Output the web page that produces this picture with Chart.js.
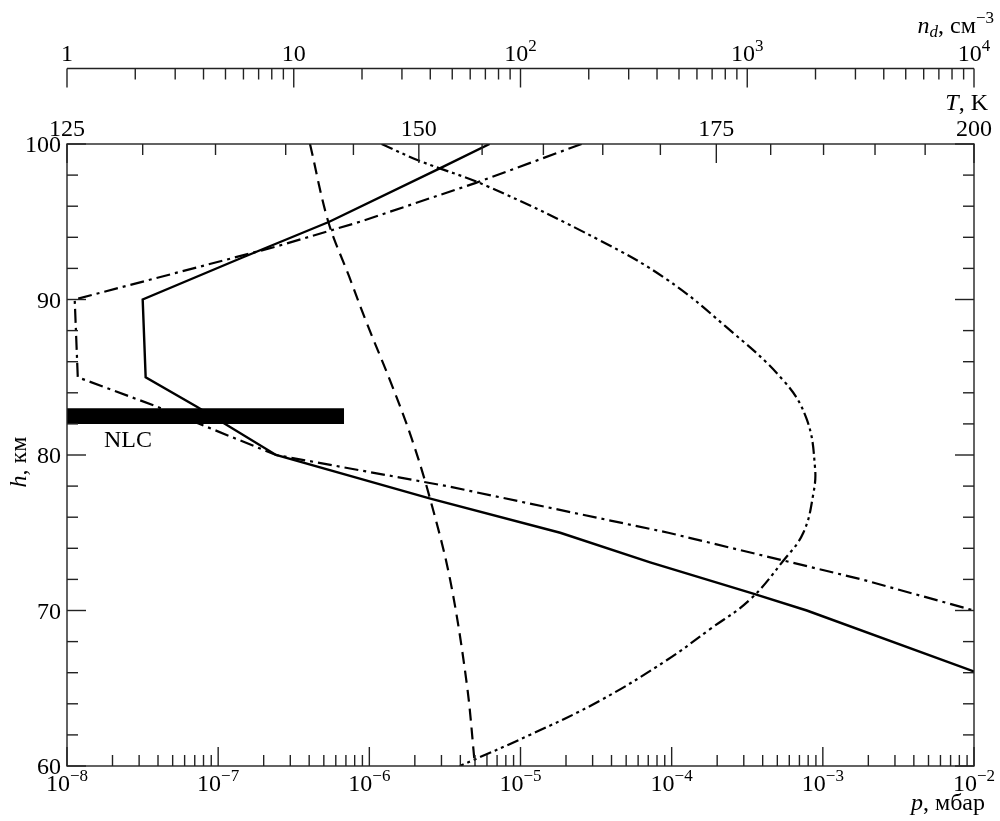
<!DOCTYPE html>
<html>
<head>
<meta charset="utf-8">
<script src="https://cdn.jsdelivr.net/npm/chart.js@4.4.0/dist/chart.umd.min.js"></script>
<style>
  html, body { margin: 0; padding: 0; background: #fff; }
  #wrap { width: 1000px; height: 821px; position: relative; }
  canvas { display: block; }
</style>
</head>
<body>
<div id="wrap"><canvas id="c" width="1000" height="821"></canvas></div>
<script>
// Temperature profile 1 (solid), h in km, T in K
const solidH = [100, 98.5, 95, 92.7, 90, 85, 83.1, 80, 77.2, 75, 73.1, 71.1, 70, 65];
const solidT = [155.6, 151.8, 143.2, 136.9, 130.0, 130.2, 133.7, 139.3, 150.9, 161.4, 169.1, 178.3, 183.4, 204.8];

// Temperature profile 2 (dash-dot)
const dashDotH = [100, 97.5, 95, 93.4, 90, 85, 83.1, 80, 78, 75, 72, 70];
const dashDotT = [163.2, 154.5, 145.5, 139.3, 125.5, 125.7, 131.0, 139.3, 152.2, 170.7, 188.7, 200.0];

// Water vapour pressure (dashed), p in mbar
const dashedH = [100, 95, 91.5, 88.5, 84.8, 81.1, 77.2, 72, 65.3, 60];
const dashedP = [4.05e-7, 5.35e-7, 7.34e-7, 9.6e-7, 1.37e-6, 1.9e-6, 2.52e-6, 3.42e-6, 4.41e-6, 5.0e-6];

// Particle number density (dash-dot-dot), n_d in cm^-3
const ndH = [100, 98.9, 97.3, 93.8, 91.3, 88.3, 84.8, 82.3, 79.2, 77.5, 75.0, 73.2, 70.7, 68.8, 66.8, 64.2, 62.0, 60];
const ndN = [24.4, 36.1, 71, 224, 441, 798, 1442, 1829, 1990, 1956, 1767, 1442, 1028, 685, 441, 224, 110, 54];

// Noctilucent cloud layer
const nlcH = [82, 83];
const nlcP = [1e-8, 6.8e-7];

// Axis ticks
const hTicks = [60, 62, 64, 66, 68, 70, 72, 74, 76, 78, 80, 82, 84, 86, 88, 90, 92, 94, 96, 98, 100];
const hLabels = [60, 70, 80, 90, 100];
const tTicks = [125, 130, 135, 140, 145, 150, 155, 160, 165, 170, 175, 180, 185, 190, 195, 200];
const tLabels = [125, 150, 175, 200];
const pExponents = [-8, -7, -6, -5, -4, -3, -2];
const nExponents = [0, 1, 2, 3, 4];
const nLabels = ['1', '10', '10^2', '10^3', '10^4'];
const minorMultipliers = [2, 3, 4, 5, 6, 7, 8, 9];

const SERIF = '"Liberation Serif", "DejaVu Serif", serif';
const FS = 24;
const SUP = 17;
const MAJOR = 19, MINOR = 11;

function pts(xs, ys) { return xs.map((x, i) => ({ x: x, y: ys[i] })); }

// Draw a run of text pieces; each piece: {t, italic, size, dy}
function drawRuns(ctx, runs, x, y, align) {
  let total = 0;
  const widths = runs.map(r => {
    ctx.font = (r.italic ? 'italic ' : '') + (r.size || FS) + 'px ' + SERIF;
    const w = ctx.measureText(r.t).width;
    total += w;
    return w;
  });
  let cx = align === 'right' ? x - total : align === 'center' ? x - total / 2 : x;
  ctx.textAlign = 'left';
  ctx.textBaseline = 'alphabetic';
  runs.forEach((r, i) => {
    ctx.font = (r.italic ? 'italic ' : '') + (r.size || FS) + 'px ' + SERIF;
    ctx.fillText(r.t, cx, y + (r.dy || 0));
    cx += widths[i];
  });
}

function powRuns(base, exp) {
  if (exp === null) return [{ t: base }];
  return [{ t: base }, { t: exp, size: SUP, dy: -10 }];
}

function line(ctx, x1, y1, x2, y2) {
  ctx.beginPath(); ctx.moveTo(x1, y1); ctx.lineTo(x2, y2); ctx.stroke();
}

const frameAxes = {
  id: 'frameAxes',
  afterDatasetsDraw(chart) {
    const { ctx, chartArea: a, scales } = chart;
    ctx.save();
    ctx.strokeStyle = '#222';
    ctx.fillStyle = '#000';
    ctx.lineWidth = 1.4;
    ctx.strokeRect(a.left, a.top, a.right - a.left, a.bottom - a.top);

    // Height ticks on both sides
    hTicks.forEach(h => {
      const y = scales.y.getPixelForValue(h);
      const len = hLabels.includes(h) ? MAJOR : MINOR;
      line(ctx, a.left, y, a.left + len, y);
      line(ctx, a.right, y, a.right - len, y);
    });
    hLabels.forEach(h => {
      const y = scales.y.getPixelForValue(h);
      drawRuns(ctx, [{ t: String(h) }], a.left - 6, y + 8, 'right');
    });

    // Pressure axis (bottom)
    const sx = scales.x;
    pExponents.forEach((e, i) => {
      const x = sx.getPixelForValue(Math.pow(10, e));
      line(ctx, x, a.bottom, x, a.bottom - MAJOR);
      drawRuns(ctx, powRuns('10', '\u2212' + Math.abs(e)), x, a.bottom + 25, 'center');
      if (i < pExponents.length - 1) {
        minorMultipliers.forEach(m => {
          const xm = sx.getPixelForValue(m * Math.pow(10, e));
          line(ctx, xm, a.bottom, xm, a.bottom - MINOR);
        });
      }
    });
    drawRuns(ctx, [{ t: 'p', italic: true }, { t: ', мбар' }], 985, 810, 'right');

    // Temperature axis (top of the frame)
    const st = scales.xT;
    tTicks.forEach(t => {
      const x = st.getPixelForValue(t);
      line(ctx, x, a.top, x, a.top + (tLabels.includes(t) ? MAJOR : MINOR));
    });
    tLabels.forEach(t => {
      drawRuns(ctx, [{ t: String(t) }], st.getPixelForValue(t), a.top - 8, 'center');
    });
    drawRuns(ctx, [{ t: 'T', italic: true }, { t: ', K' }], 988, 110, 'right');

    // Number density axis (detached, above)
    const sn = scales.xN;
    const yN = 68.5;
    line(ctx, a.left, yN, a.right, yN);
    nExponents.forEach((e, i) => {
      const x = sn.getPixelForValue(Math.pow(10, e));
      line(ctx, x, yN, x, yN + MAJOR);
      const parts = nLabels[i].split('^');
      drawRuns(ctx, powRuns(parts[0], parts.length > 1 ? parts[1] : null), x, yN - 8, 'center');
      if (i < nExponents.length - 1) {
        minorMultipliers.forEach(m => {
          const xm = sn.getPixelForValue(m * Math.pow(10, e));
          line(ctx, xm, yN, xm, yN + MINOR);
        });
      }
    });
    drawRuns(ctx, [
      { t: 'n', italic: true },
      { t: 'd', italic: true, size: SUP, dy: 4 },
      { t: ', см' },
      { t: '\u22123', size: SUP, dy: -10 }
    ], 994, 33, 'right');

    // Height axis title, rotated
    ctx.save();
    ctx.translate(26, 462);
    ctx.rotate(-Math.PI / 2);
    drawRuns(ctx, [{ t: 'h', italic: true }, { t: ', км' }], 0, 0, 'center');
    ctx.restore();

    // Cloud layer label
    drawRuns(ctx, [{ t: 'NLC', size: 24 }], 128, 447, 'center');
    ctx.restore();
  }
};

const lineBase = { showLine: true, pointRadius: 0, borderColor: '#000', fill: false, tension: 0 };

new Chart(document.getElementById('c').getContext('2d'), {
  type: 'scatter',
  data: {
    datasets: [
      Object.assign({}, lineBase, {
        label: 'NLC', xAxisID: 'x',
        data: [
          { x: nlcP[0], y: nlcH[0] }, { x: nlcP[1], y: nlcH[0] },
          { x: nlcP[1], y: nlcH[1] }, { x: nlcP[0], y: nlcH[1] }, { x: nlcP[0], y: nlcH[0] }
        ],
        fill: 'shape', backgroundColor: '#000', borderWidth: 0
      }),
      Object.assign({}, lineBase, {
        label: 'T1', xAxisID: 'xT', data: pts(solidT, solidH), borderWidth: 2.4
      }),
      Object.assign({}, lineBase, {
        label: 'T2', xAxisID: 'xT', data: pts(dashDotT, dashDotH), borderWidth: 2.2,
        borderDash: [14, 5, 3, 5]
      }),
      Object.assign({}, lineBase, {
        label: 'p', xAxisID: 'x', data: pts(dashedP, dashedH), borderWidth: 2.2,
        borderDash: [12, 7], tension: 0.35
      }),
      Object.assign({}, lineBase, {
        label: 'nd', xAxisID: 'xN', data: pts(ndN, ndH), borderWidth: 2.2,
        borderDash: [12, 4, 3, 4, 3, 4], tension: 0.4
      })
    ]
  },
  options: {
    responsive: false,
    animation: false,
    devicePixelRatio: 1,
    layout: { padding: { left: 67, right: 26, top: 144, bottom: 55 } },
    plugins: { legend: { display: false }, tooltip: { enabled: false } },
    scales: {
      x: { type: 'logarithmic', position: 'bottom', min: 1e-8, max: 1e-2, display: false },
      xT: { type: 'logarithmic', position: 'top', min: 125, max: 200, display: false },
      xN: { type: 'logarithmic', position: 'top', min: 1, max: 1e4, display: false },
      y: { type: 'linear', position: 'left', min: 60, max: 100, display: false }
    }
  },
  plugins: [frameAxes]
});
</script>
</body>
</html>
